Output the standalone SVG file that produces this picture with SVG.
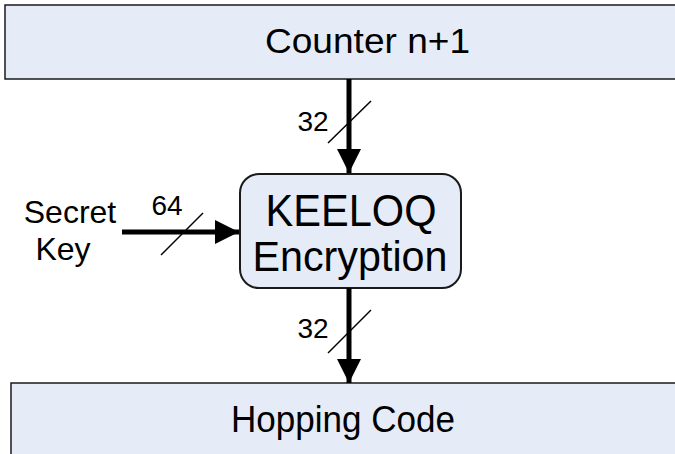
<svg xmlns="http://www.w3.org/2000/svg" width="675" height="454" viewBox="0 0 675 454">
<defs>
<style>
.box{fill:#E6ECF7;stroke:#1a1a1a;stroke-width:1.5}
.rbox{fill:#E6ECF7;stroke:#1a1a1a;stroke-width:2}
text{font-family:"Liberation Sans",Arial,sans-serif;fill:#000}
.wire{stroke:#000;stroke-width:5;fill:none}
.slash{stroke:#000;stroke-width:1.5;fill:none}
</style>
<marker id="ah" markerUnits="userSpaceOnUse" markerWidth="24" markerHeight="24" refX="22" refY="11" orient="auto" viewBox="0 0 22 22">
<path d="M0,0 L22,11 L0,22 Z" fill="#000"/>
</marker>
</defs>
<rect x="0" y="0" width="675" height="454" fill="#fff"/>
<g id="counter">
<rect class="box" x="5" y="5" width="680" height="74"/>
<text x="265" y="53" font-size="35" textLength="205" lengthAdjust="spacingAndGlyphs">Counter n+1</text>
</g>
<g id="keeloq">
<rect class="rbox" x="240" y="174" width="221" height="114" rx="19" ry="19"/>
<text x="351" y="226" font-size="45" text-anchor="middle" textLength="171" lengthAdjust="spacingAndGlyphs">KEELOQ</text>
<text x="350" y="271" font-size="43" text-anchor="middle" textLength="195" lengthAdjust="spacingAndGlyphs">Encryption</text>
</g>
<g id="hopping">
<rect class="box" x="11" y="383" width="680" height="80"/>
<text x="231" y="432" font-size="37" textLength="224" lengthAdjust="spacingAndGlyphs">Hopping Code</text>
</g>
<g id="secretkey">
<text x="70" y="223" font-size="32" text-anchor="middle">Secret</text>
<text x="63" y="260" font-size="32" text-anchor="middle">Key</text>
</g>
<g id="connectors">
<line class="wire" x1="349" y1="79" x2="349" y2="173" marker-end="url(#ah)"/>
<line class="slash" x1="328" y1="143" x2="371" y2="101"/>
<text x="313" y="131" font-size="28" text-anchor="middle">32</text>
<line class="wire" x1="122" y1="232" x2="239" y2="232" marker-end="url(#ah)"/>
<line class="slash" x1="161" y1="255" x2="203" y2="213"/>
<text x="167" y="215" font-size="28" text-anchor="middle">64</text>
<line class="wire" x1="349" y1="288" x2="349" y2="383" marker-end="url(#ah)"/>
<line class="slash" x1="328" y1="353" x2="371" y2="310"/>
<text x="313" y="338" font-size="28" text-anchor="middle">32</text>
</g>
</svg>
